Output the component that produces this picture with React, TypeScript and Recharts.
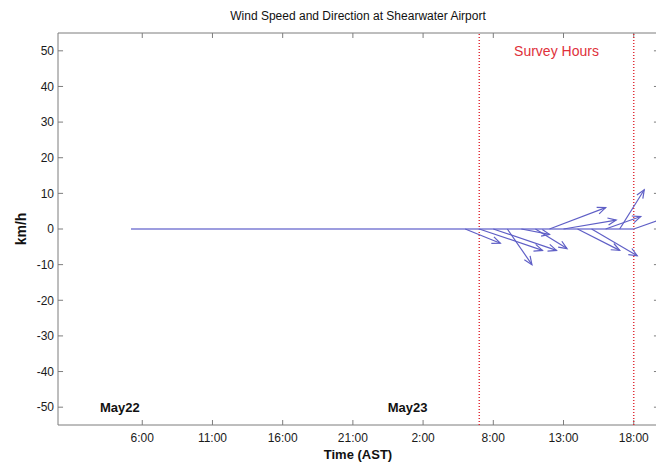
import {
  LineChart,
  Line,
  XAxis,
  YAxis,
  ReferenceLine,
  ReferenceDot,
  ReferenceArea,
} from "recharts";

// time is in hours since May22 00:00 (AST)
const stickHours = [29, 30, 31, 32, 33, 34, 35, 36, 37, 38, 39, 40, 41];
// wind components in km/h (u = east, v = north)
const windU = [10, 18, 18, 7, 8, 9, 16, 15, 12, 13, 10, 7, 10];
const windV = [-4, -6, -6, -10, -1.5, -5.5, 6, 2.5, -6, -7.5, 3.5, 11, 3.5];
const firstObsHour = 5.2;

const xTicks = [6, 11, 16, 21, 26, 31, 36, 41];
const xTickLabels = ["6:00", "11:00", "16:00", "21:00", "2:00", "8:00", "13:00", "18:00"];
const yTicks = [-50, -40, -30, -20, -10, 0, 10, 20, 30, 40, 50];

const surveyStart = 30;
const surveyEnd = 41;

const dayNames = ["May22", "May23"];
const dayLabelHours = [4.4, 24.9];

const X_MAX = 42.8;
const Y_MIN = -55;
const Y_MAX = 55;
// stick plot: hours of axis per km/h of east wind
const HOURS_PER_KMH = 0.25;
// inward tick lengths in data units
const TICK_X_LEN = 0.36;
const TICK_Y_LEN = 1.4;

const FONT = "'Liberation Sans', Arial, Helvetica, sans-serif";
const AXIS_GREY = "#7d7d7d";
const STICK_BLUE = "#5f5fc6";
const SURVEY_RED = "#e0303a";

const sticks = stickHours.map((t, i) => [
  { t, v: 0 },
  { t: t + windU[i] * HOURS_PER_KMH, v: windV[i] },
]);

const baseline = [
  { t: firstObsHour, v: 0 },
  { t: stickHours[stickHours.length - 1], v: 0 },
];

function ArrowHead(props: any) {
  const { index, cx, cy, points } = props;
  const key = `head-${props.dataKey}-${index}`;
  if (index !== 1 || !points || points.length < 2) return <g key={key} />;
  const dx = cx - points[0].x;
  const dy = cy - points[0].y;
  const len = Math.hypot(dx, dy);
  if (!len) return <g key={key} />;
  const size = Math.min(9, len * 0.3);
  const ang = Math.atan2(dy, dx);
  const a1 = ang + Math.PI - 0.4;
  const a2 = ang + Math.PI + 0.4;
  const d =
    `M${cx + size * Math.cos(a1)},${cy + size * Math.sin(a1)}` +
    `L${cx},${cy}` +
    `L${cx + size * Math.cos(a2)},${cy + size * Math.sin(a2)}`;
  return <path key={key} d={d} fill="none" stroke={STICK_BLUE} strokeWidth={1.2} />;
}

export default function App() {
  return (
    <div
      style={{
        position: "absolute",
        left: 0,
        top: 0,
        width: 656,
        height: 462,
        overflow: "hidden",
        background: "#fff",
        fontFamily: FONT,
      }}
    >
      <LineChart width={720} height={462} margin={{ top: 33, right: 61, bottom: 0, left: 0 }}>
        <XAxis
          dataKey="t"
          type="number"
          domain={[0, X_MAX]}
          allowDataOverflow
          ticks={xTicks}
          interval={0}
          tickFormatter={(v: number) => xTickLabels[xTicks.indexOf(v)] ?? ""}
          height={37}
          tickLine={false}
          axisLine={false}
          tickSize={0}
          tickMargin={8}
          tick={{ fill: "#1a1a1a", fontSize: 12, fontFamily: FONT }}
        />
        <YAxis
          dataKey="v"
          type="number"
          domain={[Y_MIN, Y_MAX]}
          allowDataOverflow
          ticks={yTicks}
          interval={0}
          width={58}
          tickLine={false}
          axisLine={false}
          tickSize={0}
          tickMargin={4}
          tick={{ fill: "#1a1a1a", fontSize: 12, fontFamily: FONT }}
        />

        <ReferenceArea
          x1={0}
          x2={X_MAX}
          y1={Y_MIN}
          y2={Y_MAX}
          fill="none"
          stroke={AXIS_GREY}
          strokeWidth={1}
        />
        {yTicks.map((y) => (
          <ReferenceLine
            key={`yl-${y}`}
            segment={[{ x: 0, y }, { x: TICK_X_LEN, y }]}
            stroke={AXIS_GREY}
          />
        ))}
        {yTicks.map((y) => (
          <ReferenceLine
            key={`yr-${y}`}
            segment={[{ x: X_MAX - TICK_X_LEN, y }, { x: X_MAX, y }]}
            stroke={AXIS_GREY}
          />
        ))}
        {xTicks.map((x) => (
          <ReferenceLine
            key={`xb-${x}`}
            segment={[{ x, y: Y_MIN }, { x, y: Y_MIN + TICK_Y_LEN }]}
            stroke={AXIS_GREY}
          />
        ))}
        {xTicks.map((x) => (
          <ReferenceLine
            key={`xt-${x}`}
            segment={[{ x, y: Y_MAX - TICK_Y_LEN }, { x, y: Y_MAX }]}
            stroke={AXIS_GREY}
          />
        ))}

        <ReferenceLine x={surveyStart} stroke={SURVEY_RED} strokeDasharray="1 2" strokeWidth={1.5} />
        <ReferenceLine x={surveyEnd} stroke={SURVEY_RED} strokeDasharray="1 2" strokeWidth={1.5} />
        <ReferenceDot
          x={(surveyStart + surveyEnd) / 2}
          y={50}
          r={1}
          fill="none"
          stroke="none"
          label={{ value: "Survey Hours", position: "center", fill: SURVEY_RED, fontSize: 14, fontFamily: FONT }}
        />
        {dayNames.map((name, i) => (
          <ReferenceDot
            key={name}
            x={dayLabelHours[i]}
            y={-50}
            r={1}
            fill="none"
            stroke="none"
            label={{ value: name, position: "center", fill: "#111", fontSize: 13, fontWeight: "bold", fontFamily: FONT }}
          />
        ))}

        <Line
          data={baseline}
          dataKey="v"
          type="linear"
          stroke="#7c7cd4"
          strokeWidth={1.6}
          dot={false}
          activeDot={false}
          isAnimationActive={false}
        />
        {sticks.map((pts, i) => (
          <Line
            key={`stick-${i}`}
            data={pts}
            dataKey="v"
            name={`stick-${i}`}
            type="linear"
            stroke={STICK_BLUE}
            strokeWidth={1.2}
            dot={ArrowHead}
            activeDot={false}
            isAnimationActive={false}
          />
        ))}
      </LineChart>

      <div
        style={{
          position: "absolute",
          left: 358,
          top: 16,
          transform: "translate(-50%, -50%)",
          fontSize: 12,
          color: "#111",
          whiteSpace: "nowrap",
        }}
      >
        Wind Speed and Direction at Shearwater Airport
      </div>
      <div
        style={{
          position: "absolute",
          left: 358,
          top: 454,
          transform: "translate(-50%, -50%)",
          fontSize: 13,
          fontWeight: "bold",
          color: "#111",
          whiteSpace: "nowrap",
        }}
      >
        Time (AST)
      </div>
      <div
        style={{
          position: "absolute",
          left: 21,
          top: 229,
          transform: "translate(-50%, -50%) rotate(-90deg)",
          fontSize: 14,
          fontWeight: "bold",
          color: "#111",
          whiteSpace: "nowrap",
        }}
      >
        km/h
      </div>
    </div>
  );
}
